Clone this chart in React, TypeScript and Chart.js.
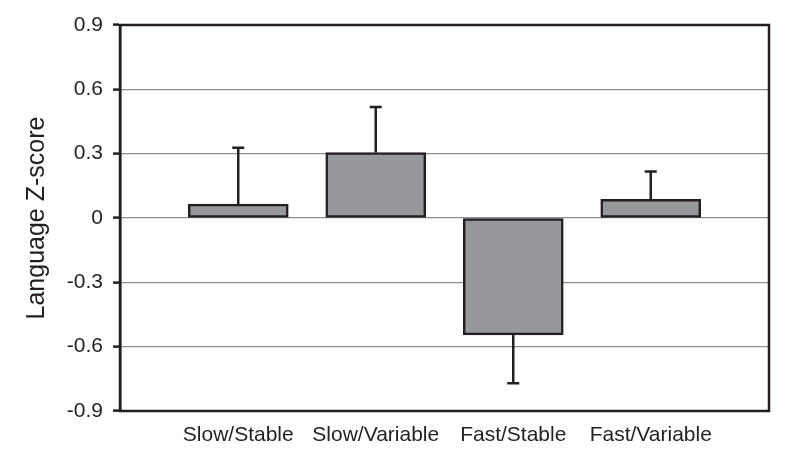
import React, { useEffect, useRef } from "react";
import { Chart, registerables } from "chart.js";

Chart.register(...registerables);

const categories = ["Slow/Stable", "Slow/Variable", "Fast/Stable", "Fast/Variable"];
const means = [0.065, 0.305, -0.545, 0.087];
const errors = [0.263, 0.213, 0.226, 0.13];
const yTicks = [0.9, 0.6, 0.3, 0, -0.3, -0.6, -0.9];
const yTitle = "Language Z-score";

const DARK = "#231f20";
const GRID = "#8c8c8c";
const FILL = "#97989b";
const FONT = "'Liberation Sans', Arial, sans-serif";

const errorBarPlugin = {
  id: "errorBars",
  afterDatasetsDraw(chart: any) {
    const meta = chart.getDatasetMeta(0);
    const yScale = chart.scales.y;
    const ctx = chart.ctx;
    ctx.save();
    ctx.strokeStyle = DARK;
    ctx.lineWidth = 2.5;
    meta.data.forEach((bar: any, i: number) => {
      const m = means[i];
      const end = m >= 0 ? m + errors[i] : m - errors[i];
      const y0 = yScale.getPixelForValue(m);
      const y1 = yScale.getPixelForValue(end);
      const x = bar.x;
      ctx.beginPath();
      ctx.moveTo(x, y0);
      ctx.lineTo(x, y1);
      ctx.moveTo(x - 6, y1);
      ctx.lineTo(x + 6, y1);
      ctx.stroke();
    });
    ctx.restore();
  },
  afterDraw(chart: any) {
    const { left, right, top, bottom } = chart.chartArea;
    const ctx = chart.ctx;
    ctx.save();
    ctx.strokeStyle = DARK;
    ctx.lineWidth = 2.5;
    ctx.strokeRect(left, top, right - left, bottom - top);
    ctx.restore();
  },
};

export default function App() {
  const ref = useRef<HTMLCanvasElement>(null);
  useEffect(() => {
    document.body.style.margin = "0";
    const chart = new Chart(ref.current!, {
      type: "bar",
      data: {
        datasets: [
          {
            data: means.map((v, i) => ({ x: i + 1, y: v })),
            backgroundColor: FILL,
            borderColor: DARK,
            borderWidth: 2.5,
            borderSkipped: false,
            barThickness: 100,
          },
        ],
      },
      options: {
        animation: false,
        responsive: false,
        maintainAspectRatio: false,
        layout: { padding: { top: 25, right: 31, left: 0, bottom: 0 } },
        plugins: { legend: { display: false }, tooltip: { enabled: false } },
        scales: {
          x: {
            type: "linear",
            offset: false,
            min: 0.14,
            max: 4.86,
            grid: { display: false, drawTicks: false, offset: false },
            border: { display: false },
            ticks: {
              stepSize: 1,
              includeBounds: false,
              padding: 12,
              color: "#231f20",
              font: { family: FONT, size: 21 },
              maxRotation: 0,
              autoSkip: false,
              callback: (v: any) => {
                const idx = Math.round(Number(v)) - 1;
                return Number.isInteger(Number(v)) && categories[idx] ? categories[idx] : "";
              },
            },
            afterFit: (s: any) => {
              s.height = 41;
            },
          },
          y: {
            min: -0.9,
            max: 0.9,
            afterBuildTicks: (s: any) => {
              s.ticks = yTicks.map((v) => ({ value: v }));
            },
            grid: {
              color: GRID,
              lineWidth: 1.2,
              tickColor: DARK,
              tickLength: 7,
              tickWidth: 2.5,
            },
            border: { display: true, color: DARK, width: 2.5 },
            ticks: {
              padding: 10,
              color: "#231f20",
              font: { family: FONT, size: 21 },
              callback: (v: any) => {
                const n = Math.round(Number(v) * 10) / 10;
                return n === 0 ? "0" : n.toFixed(1);
              },
            },
            title: {
              display: true,
              text: yTitle,
              color: "#231f20",
              font: { family: FONT, size: 25 },
              padding: { top: 22, bottom: 0 },
            },
            afterFit: (s: any) => {
              s.width = 120;
            },
          },
        },
      },
      plugins: [errorBarPlugin],
    });
    return () => chart.destroy();
  }, []);
  return (
    <div style={{ position: "absolute", left: 0, top: 0, width: 800, height: 452, background: "#fff" }}>
      <canvas ref={ref} width={800} height={452} style={{ width: 800, height: 452 }} />
    </div>
  );
}
